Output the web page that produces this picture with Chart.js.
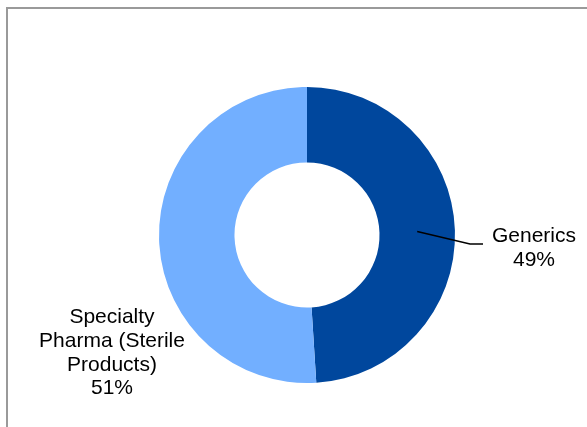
<!DOCTYPE html>
<html>
<head>
<meta charset="utf-8">
<script src="https://cdn.jsdelivr.net/npm/chart.js@4/dist/chart.umd.min.js"></script>
<style>
  html, body { margin: 0; padding: 0; background: #fff; }
  #wrap { position: relative; width: 587px; height: 427px; overflow: hidden; }
  #frame {
    position: absolute; left: 6px; top: 7px; width: 600px; height: 440px;
    border-top: 2px solid #9a9a9a; border-left: 2px solid #9a9a9a;
  }
  canvas { position: absolute; left: 0; top: 0; }
</style>
</head>
<body>
<div id="wrap">
  <div id="frame"></div>
  <canvas id="donut" width="587" height="427"></canvas>
</div>
<script>
// chart data
var categories = ["Generics", "Specialty Pharma (Sterile Products)"];
var labelLines = [["Generics"], ["Specialty", "Pharma (Sterile", "Products)"]];
var shares = [49, 51];
var colors = ["#00479d", "#72afff"];

// draws the category labels, percent and the leader line for Generics
var outsideLabels = {
    id: "outsideLabels",
    afterDraw: function (chart) {
        var ctx = chart.ctx;
        var arcs = chart.getDatasetMeta(0).data;
        ctx.save();
        ctx.font = "21px 'Liberation Sans', Arial, sans-serif";
        ctx.fillStyle = "#000";
        ctx.textAlign = "center";
        ctx.textBaseline = "alphabetic";

        // Generics, right side with leader line
        var a = arcs[0];
        var mid = (a.startAngle + a.endAngle) / 2;
        var r = (a.innerRadius + a.outerRadius) / 2;
        var sx = a.x + Math.cos(mid) * r;
        var sy = a.y + Math.sin(mid) * r;
        ctx.strokeStyle = "#000";
        ctx.lineWidth = 1.5;
        ctx.beginPath();
        ctx.moveTo(sx, sy);
        ctx.lineTo(a.x + 163, a.y + 9);
        ctx.lineTo(a.x + 176, a.y + 9);
        ctx.stroke();
        var gx = a.x + 227, gy = a.y + 7;
        labelLines[0].forEach(function (t, i) { ctx.fillText(t, gx, gy + i * 23.5); });
        ctx.fillText(shares[0] + "%", gx, gy + labelLines[0].length * 23.5);

        // Specialty, lower left
        var b = arcs[1];
        var px = b.x - 195, py = b.y + 88;
        labelLines[1].forEach(function (t, i) { ctx.fillText(t, px, py + i * 23.8); });
        ctx.fillText(shares[1] + "%", px, py + labelLines[1].length * 23.8);
        ctx.restore();
    }
};

var ctx = document.getElementById("donut").getContext("2d");
var chart = new Chart(ctx, {
    type: "doughnut",
    data: {
        labels: categories,
        datasets: [{
            data: shares,
            backgroundColor: colors,
            borderWidth: 0
        }]
    },
    options: {
        responsive: false,
        animation: false,
        cutout: "49%",
        layout: { padding: { left: 159, right: 132, top: 87, bottom: 44 } },
        plugins: {
            legend: { display: false },
            tooltip: { enabled: false }
        }
    },
    plugins: [outsideLabels]
});
</script>
</body>
</html>
